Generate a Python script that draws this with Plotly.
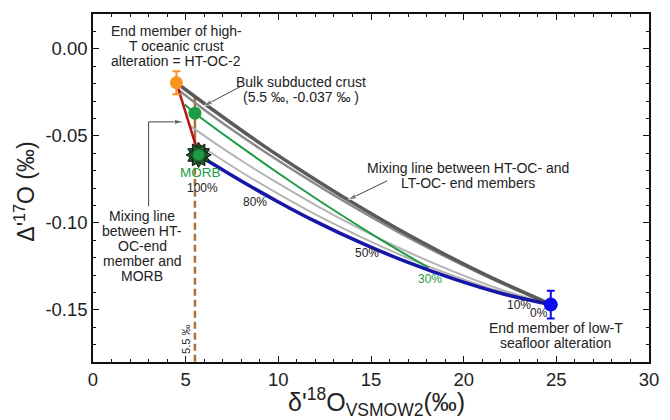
import plotly.graph_objects as go

# End members and samples (delta'18O, Delta'17O in permil)
ht_oc2 = {"x": [4.5], "y": [-0.0195], "err": [0.0066]}
bulk_crust = {"x": [5.5], "y": [-0.037]}
morb = {"x": [5.7], "y": [-0.061]}
lt_end = {"x": [24.7], "y": [-0.147], "err": [0.008]}

# HT-OC-2 to MORB mixing line
red_x = [4.5, 5.7]
red_y = [-0.0195, -0.061]

# MORB to low-T end member mixing curve
blue_x = [5.7, 6.5, 8.0, 10.0, 12.0, 14.5, 17.0, 19.5, 22.0, 24.7]
blue_y = [-0.061, -0.0664, -0.076, -0.088, -0.0992, -0.1117, -0.1228, -0.1324, -0.1405, -0.147]

# HT-OC to LT-OC mixing curves
dkgray_x = [4.5, 6.5, 9.0, 11.5, 14.0, 16.5, 19.0, 21.5, 24.7]
dkgray_y = [-0.0195, -0.0353, -0.0542, -0.0718, -0.0884, -0.1039, -0.1182, -0.1315, -0.1468]
gray_x = [4.6, 6.5, 9.0, 11.5, 14.0, 16.5, 19.0, 21.5, 24.7]
gray_y = [-0.0235, -0.0389, -0.0573, -0.0744, -0.0905, -0.1055, -0.1193, -0.1321, -0.147]
ltgray1_x = [5.2, 6.5, 8.0, 10.0, 12.0, 14.5, 17.0, 19.5, 22.0, 24.7]
ltgray1_y = [-0.044, -0.0536, -0.0642, -0.0774, -0.0898, -0.1039, -0.1168, -0.1282, -0.1383, -0.147]
ltgray2_x = [5.45, 6.5, 8.0, 10.0, 12.0, 14.5, 17.0, 19.5, 22.0, 24.7]
ltgray2_y = [-0.053, -0.0606, -0.0708, -0.0834, -0.0952, -0.1084, -0.1203, -0.1307, -0.1396, -0.147]
green_x = [4.95, 5.5, 8.0, 10.5, 13.0, 15.5, 18.1]
green_y = [-0.032, -0.037, -0.0565, -0.0751, -0.0928, -0.1095, -0.1258]

# 5.5 permil reference line
ref_solid_x = [5.5, 5.5]
ref_solid_y = [-0.0275, -0.062]
ref_dash_x = [5.5, 5.5]
ref_dash_y = [-0.062, -0.18]

# Pointer lines (tail ... head)
ptr_morb_x = [3.0, 3.0, 4.85]
ptr_morb_y = [-0.0905, -0.042, -0.042]
ptr_bulk_x = [7.94, 5.98]
ptr_bulk_y = [-0.0218, -0.0328]
ptr_mix_x = [15.87, 13.76]
ptr_mix_y = [-0.0759, -0.0868]

# Text blocks: (x centre, y of first line, lines)
lbl_ht = (4.5, 0.0103, ["End member of high-", "T oceanic crust", "alteration = HT-OC-2"])
lbl_bulk = (11.2, -0.019, ["Bulk subducted crust", "(5.5 ‰, -0.037 ‰ )"])
lbl_mix_lt = (20.26, -0.0684, ["Mixing line between HT-OC- and", "LT-OC- end members"])
lbl_mix_morb = (2.65, -0.096, ["Mixing line", "between HT-", "OC-end", "member and", "MORB"])
lbl_lt = (24.97, -0.1603, ["End member of low-T", "seafloor alteration"])
LINE_STEP = 0.0086

FONT = "Arial, Liberation Sans, sans-serif"
TXT = "#222222"

fig = go.Figure()


def line(x, y, color, width, dash="solid", shape="spline"):
    fig.add_trace(go.Scatter(x=x, y=y, mode="lines", line=dict(color=color, width=width, dash=dash, shape=shape),
                             hoverinfo="skip", showlegend=False))


def pointer(x, y):
    sizes = [0] * (len(x) - 1) + [9]
    fig.add_trace(go.Scatter(x=x, y=y, mode="lines+markers", line=dict(color="#444444", width=1),
                             marker=dict(symbol="arrow", angleref="previous", size=sizes, color="#444444"),
                             hoverinfo="skip", showlegend=False))


line(ref_solid_x, ref_solid_y, "#A8723A", 2.5, shape="linear")
line(ref_dash_x, ref_dash_y, "#A8723A", 2.5, dash="7px,4px", shape="linear")
line(ltgray2_x, ltgray2_y, "#b4b4b4", 2)
line(ltgray1_x, ltgray1_y, "#b4b4b4", 2)
line(green_x, green_y, "#1E9B45", 2)
line(gray_x, gray_y, "#8a8a8a", 2.5)
line(dkgray_x, dkgray_y, "#5a5a5a", 3.5)
line(blue_x, blue_y, "#1616A8", 3.5)
line(red_x, red_y, "#B81416", 2.5, shape="linear")

pointer(ptr_morb_x, ptr_morb_y)
pointer(ptr_bulk_x, ptr_bulk_y)
pointer(ptr_mix_x, ptr_mix_y)

# Points
fig.add_trace(go.Scatter(x=ht_oc2["x"], y=ht_oc2["y"], mode="markers",
                         marker=dict(color="#F7931E", size=13),
                         error_y=dict(type="data", array=ht_oc2["err"], color="#F7931E", thickness=2, width=4),
                         hoverinfo="skip", showlegend=False))
fig.add_trace(go.Scatter(x=bulk_crust["x"], y=bulk_crust["y"], mode="markers",
                         marker=dict(color="#1E9B45", size=13),
                         hoverinfo="skip", showlegend=False))
for ang in (0, 30):
    fig.add_trace(go.Scatter(x=morb["x"], y=morb["y"], mode="markers",
                             marker=dict(color="#1f5a2e", size=19, symbol="hexagram", angle=ang,
                                         line=dict(color="#0a1a0a", width=1)),
                             hoverinfo="skip", showlegend=False))
fig.add_trace(go.Scatter(x=morb["x"], y=morb["y"], mode="markers",
                         marker=dict(color="#1E9B45", size=11),
                         hoverinfo="skip", showlegend=False))
fig.add_trace(go.Scatter(x=lt_end["x"], y=lt_end["y"], mode="markers",
                         marker=dict(color="#0a0af0", size=14),
                         error_y=dict(type="data", array=lt_end["err"], color="#0a0af0", thickness=2, width=4),
                         hoverinfo="skip", showlegend=False))

ann = []


def text(x, y, s, size=14, color=TXT, angle=0):
    ann.append(dict(x=x, y=y, text=s, showarrow=False, textangle=angle,
                    font=dict(family=FONT, size=size, color=color), xanchor="center", yanchor="middle"))


def block(spec, size=14):
    x, y0, rows = spec
    for i, row in enumerate(rows):
        text(x, y0 - i * LINE_STEP, row, size=size)


block(lbl_ht)
block(lbl_bulk)
block(lbl_mix_lt)
block(lbl_mix_morb)
block(lbl_lt)

text(5.82, -0.0713, "MORB", size=13.5, color="#1E9B45")
text(5.93, -0.0799, "100%", size=12)
text(8.73, -0.0879, "80%", size=12)
text(14.76, -0.1172, "50%", size=12)
text(18.2, -0.1322, "30%", size=12, color="#1E9B45")
text(22.96, -0.1471, "10%", size=12)
text(24.07, -0.1517, "0%", size=12)
text(5.03, -0.1672, "5.5 ‰", size=11, angle=-90)

# Axis titles
ann.append(dict(x=0.51, y=-0.115, xref="paper", yref="paper", showarrow=False,
                text="δ'<sup>18</sup>O<sub>VSMOW2</sub>(‰)", font=dict(family=FONT, size=25, color=TXT),
                xanchor="center", yanchor="middle"))
ann.append(dict(x=-0.122, y=0.49, xref="paper", yref="paper", showarrow=False, textangle=-90,
                text="Δ'<sup>17</sup>O (‰)", font=dict(family=FONT, size=23, color=TXT),
                xanchor="center", yanchor="middle"))

axis_common = dict(showline=True, linecolor="#111", linewidth=1.5, mirror="ticks", ticks="inside",
                   ticklen=6, tickwidth=1.2, tickcolor="#111", showgrid=False, zeroline=False,
                   tickfont=dict(family=FONT, size=18.5, color=TXT))

fig.update_layout(
    width=670, height=420,
    margin=dict(l=93, r=11, t=14, b=58),
    paper_bgcolor="white", plot_bgcolor="white",
    annotations=ann,
    xaxis=dict(range=[0, 30], tickvals=[0, 5, 10, 15, 20, 25, 30],
               minor=dict(dtick=1, ticks="inside", ticklen=3, tickcolor="#111"), **axis_common),
    yaxis=dict(range=[-0.18, 0.02], tickvals=[0.0, -0.05, -0.10, -0.15], ticktext=["0.00", "-0.05", "-0.10", "-0.15"],
               minor=dict(dtick=0.01, ticks="inside", ticklen=3, tickcolor="#111"), **axis_common),
)

fig.write_html("out.html")
